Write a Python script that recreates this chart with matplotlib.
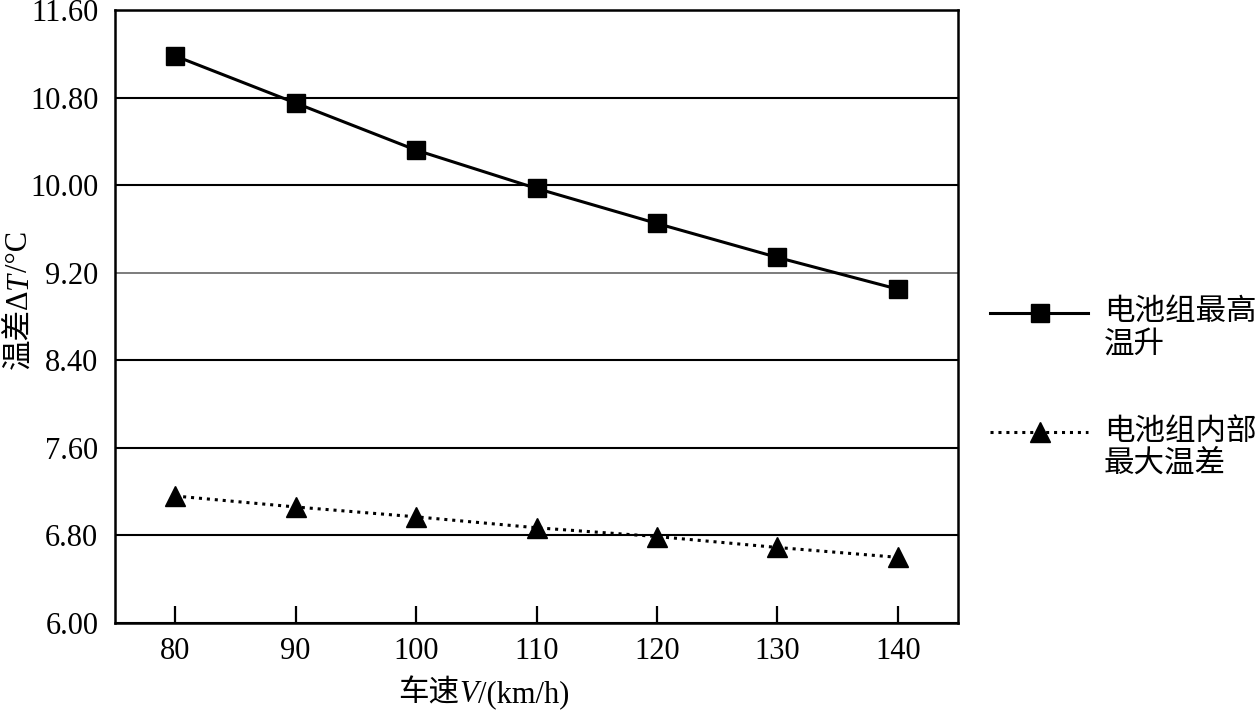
import matplotlib
matplotlib.use("Agg")
import matplotlib.pyplot as plt
from matplotlib.lines import Line2D

speed = [80, 90, 100, 110, 120, 130, 140]
max_rise = [11.18, 10.75, 10.32, 9.97, 9.65, 9.34, 9.05]
max_diff = [7.16, 7.06, 6.97, 6.87, 6.79, 6.69, 6.60]
yticks = [6.00, 6.80, 7.60, 8.40, 9.20, 10.00, 10.80, 11.60]
series_labels = [["电池组最高", "温升"], ["电池组内部", "最大温差"]]
xlabel_parts = [("车速", "normal"), ("V", "italic"), ("/(km/h)", "normal")]
ylabel_parts = [("温差Δ", "normal"), ("T", "italic"), ("/°C", "normal")]

FAM = ["Liberation Serif", "Noto Sans CJK SC", "DejaVu Sans"]
plt.rcParams['font.family'] = FAM

W, H = 1257, 714
fig = plt.figure(figsize=(W / 100, H / 100), dpi=100)
ax = fig.add_axes([115 / W, (H - 623) / H, (958 - 115) / W, (623 - 10) / H])

DOT = (0, (1, 1.6))
ax.plot(speed, max_rise, color="black", lw=2.2, marker="s", ms=13, zorder=3)
ax.plot(speed, max_diff, color="black", lw=2.2, linestyle=DOT,
        marker="^", ms=14, zorder=3)

ax.set_xlim(75, 145)
ax.set_ylim(6.0, 11.6)
ax.set_xticks(speed)
ax.set_yticks(yticks)
ax.set_yticklabels([f"{v:.2f}" for v in yticks])
ax.tick_params(axis="x", direction="in", length=12, width=1.6, pad=10, labelsize=22)
ax.tick_params(axis="y", length=0, pad=12, labelsize=22)
for s in ax.spines.values():
    s.set_linewidth(1.8)

ax.yaxis.grid(True, color="black", lw=1.5)
for v, gl in zip(yticks, ax.get_ygridlines()):
    if abs(v - 9.20) < 1e-6:
        gl.set_color("#666666")
        gl.set_linewidth(1.2)
ax.set_axisbelow(True)

# overlay axes in pixel units (y downwards) for labels and legend
lax = fig.add_axes([0, 0, 1, 1])
lax.set_xlim(0, W)
lax.set_ylim(H, 0)
lax.axis("off")

renderer = fig.canvas.get_renderer()
FS = 22

# x label: parts on a common baseline, centred
xparts = [lax.text(0, 702, t, fontsize=FS, style=st, ha="left", va="baseline")
          for t, st in xlabel_parts]
widths = [p.get_window_extent(renderer).width for p in xparts]
x = 484 - sum(widths) / 2
for p, w in zip(xparts, widths):
    p.set_x(x)
    x += w

# y label: rotated parts on a common baseline, centred vertically
yparts = [lax.text(27, 0, t, fontsize=FS, style=st, ha="left", va="baseline",
                   rotation=90, rotation_mode="anchor")
          for t, st in ylabel_parts]
heights = [p.get_window_extent(renderer).height for p in yparts]
y = 300 + sum(heights) / 2
for p, h in zip(yparts, heights):
    p.set_y(y)
    y -= h

styles = [dict(ls="-", marker="s", ms=13), dict(ls=DOT, marker="^", ms=14)]
rows = [313, 432]
for lab, st, yr in zip(series_labels, styles, rows):
    lax.add_line(Line2D([990, 1088], [yr, yr], color="black", lw=2.2,
                        linestyle=st["ls"]))
    lax.add_line(Line2D([1040], [yr], color="black", marker=st["marker"],
                        ms=st["ms"], ls="none"))
    lax.text(1104, yr, lab[0], ha="left", va="center", fontsize=FS)
    lax.text(1104, yr + 32, lab[1], ha="left", va="center", fontsize=FS)

fig.savefig("out.png", dpi=100)
